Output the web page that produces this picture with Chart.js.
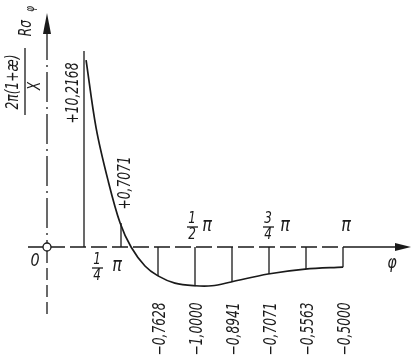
<!DOCTYPE html>
<html>
<head>
<meta charset="utf-8">
<script src="https://cdn.jsdelivr.net/npm/chart.js@4"></script>
<style>
  html, body { margin: 0; padding: 0; background: #fff; }
  #plot { display: block; }
</style>
</head>
<body>
<canvas id="plot" width="412" height="362"></canvas>
<script>
// ordinates at phi = k*pi/8 (phi given in units of pi)
const ordPhi = [0.125, 0.25, 0.375, 0.5, 0.625, 0.75, 0.875, 1.0];
// drawn heights (the +10.2168 one is cut short)
const ordVal = [5.16, 0.63, -0.76, -1.03, -0.92, -0.71, -0.58, -0.53];
const ordLabels = ['+10,2168', '+0,7071', '\u22120,7628', '\u22121,0000', '\u22120,8941', '\u22120,7071', '\u22120,5563', '\u22120,5000'];

// curve
const curvePhi = [0.132, 0.166, 0.206, 0.247, 0.284, 0.331, 0.375, 0.432, 0.5, 0.557, 0.622, 0.747, 0.872, 1.0];
const curveVal = [4.92, 3.13, 1.76, 0.63, 0, -0.5, -0.76, -0.95, -1.02, -1.02, -0.92, -0.71, -0.58, -0.53];

const INK = '#1a1a1a';
const FONT = '"DejaVu Sans", sans-serif';

// ordinate segments, separated by gaps
const ordPoints = [];
ordPhi.forEach(function(p, i) {
    ordPoints.push({ x: p, y: 0 }, { x: p, y: ordVal[i] }, { x: p, y: null });
});

// text squeezed along its run, like hand lettering
function rotText(ctx, txt, cx, cy, size, squeeze) {
    ctx.save();
    ctx.translate(cx, cy);
    ctx.rotate(-Math.PI / 2);
    ctx.scale(squeeze || 0.72, 1);
    ctx.font = 'italic ' + size + 'px ' + FONT;
    ctx.textAlign = 'center';
    ctx.textBaseline = 'middle';
    ctx.fillText(txt, 0, 0);
    ctx.restore();
}

function text(ctx, txt, cx, cy, size, squeeze) {
    ctx.save();
    ctx.translate(cx, cy);
    ctx.scale(squeeze || 0.8, 1);
    ctx.font = 'italic ' + size + 'px ' + FONT;
    ctx.textAlign = 'center';
    ctx.textBaseline = 'middle';
    ctx.fillText(txt, 0, 0);
    ctx.restore();
}

function frac(ctx, num, den, cx, cy) {
    text(ctx, num, cx, cy - 8, 15);
    ctx.beginPath();
    ctx.moveTo(cx - 5, cy);
    ctx.lineTo(cx + 6, cy);
    ctx.stroke();
    text(ctx, den, cx, cy + 8, 15);
}

const drawing = {
    id: 'drawing',
    afterDatasetsDraw(chart) {
        const ctx = chart.ctx;
        const xs = chart.scales.x, ys = chart.scales.y;
        const ox = xs.getPixelForValue(0), oy = ys.getPixelForValue(0);
        const endX = xs.getPixelForValue(1);
        ctx.save();
        ctx.strokeStyle = INK;
        ctx.fillStyle = INK;
        ctx.lineWidth = 1.3;

        // phi axis
        ctx.beginPath();
        ctx.setLineDash([16, 5]);
        ctx.moveTo(28, oy);
        ctx.lineTo(endX, oy);
        ctx.stroke();
        ctx.setLineDash([]);
        ctx.beginPath();
        ctx.moveTo(endX, oy);
        ctx.lineTo(398, oy);
        ctx.stroke();
        ctx.beginPath();
        ctx.moveTo(411, oy);
        ctx.lineTo(395, oy - 4);
        ctx.lineTo(395, oy + 4);
        ctx.closePath();
        ctx.fill();

        // vertical axis
        ctx.beginPath();
        ctx.setLineDash([30, 5, 2, 5]);
        ctx.moveTo(ox, 30);
        ctx.lineTo(ox, oy - 4);
        ctx.stroke();
        ctx.beginPath();
        ctx.setLineDash([12, 5]);
        ctx.moveTo(ox, oy + 4);
        ctx.lineTo(ox, 318);
        ctx.stroke();
        ctx.setLineDash([]);
        ctx.beginPath();
        ctx.moveTo(ox, 13);
        ctx.lineTo(ox - 4, 34);
        ctx.lineTo(ox + 4, 34);
        ctx.closePath();
        ctx.fill();

        // origin circle
        ctx.beginPath();
        ctx.arc(ox, oy, 4, 0, Math.PI * 2);
        ctx.fillStyle = '#fff';
        ctx.fill();
        ctx.stroke();
        ctx.fillStyle = INK;

        // ordinate values
        ordLabels.forEach(function(lbl, i) {
            const px = xs.getPixelForValue(ordPhi[i]);
            if (i === 0) rotText(ctx, lbl, px - 10, 93, 17);
            else if (i === 1) rotText(ctx, lbl, px + 5, 183, 17);
            else rotText(ctx, lbl, px + 3, 329, 17);
        });

        // pi marks
        frac(ctx, '1', '4', 97, 268);
        text(ctx, '\u03c0', 117, 266, 20);
        frac(ctx, '1', '2', 192, 227);
        text(ctx, '\u03c0', 207, 226, 20);
        frac(ctx, '3', '4', 268, 227);
        text(ctx, '\u03c0', 285, 226, 20);
        text(ctx, '\u03c0', 346, 226, 20);
        text(ctx, '0', 35, 261, 18);
        text(ctx, '\u03c6', 392, 263, 18);

        // vertical axis title: 2pi(1+ae)/X * R sigma_phi
        rotText(ctx, '2\u03c0(1+\u00e6)', 14, 82, 17);
        ctx.beginPath();
        ctx.moveTo(25, 48);
        ctx.lineTo(25, 115);
        ctx.stroke();
        rotText(ctx, 'X', 36, 86, 17);
        rotText(ctx, 'R\u03c3', 27, 28, 17);
        rotText(ctx, '\u03c6', 31, 9, 12);
        ctx.restore();
    }
};

new Chart(document.getElementById('plot').getContext('2d'), {
    type: 'scatter',
    data: {
        datasets: [{
            type: 'line',
            data: curvePhi.map(function(p, i) { return { x: p, y: curveVal[i] }; }),
            borderColor: INK,
            borderWidth: 1.7,
            pointRadius: 0,
            tension: 0.35,
            fill: false
        }, {
            type: 'line',
            data: ordPoints,
            borderColor: INK,
            borderWidth: 1.3,
            pointRadius: 0,
            spanGaps: false,
            fill: false
        }]
    },
    options: {
        responsive: false,
        animation: false,
        devicePixelRatio: 1,
        layout: { padding: 0 },
        plugins: { legend: { display: false }, tooltip: { enabled: false } },
        scales: {
            x: { type: 'linear', display: false, min: -47 / 296, max: 365 / 296 },
            y: { type: 'linear', display: false, min: -115 / 38, max: 247 / 38 }
        }
    },
    plugins: [drawing]
});
</script>
</body>
</html>
